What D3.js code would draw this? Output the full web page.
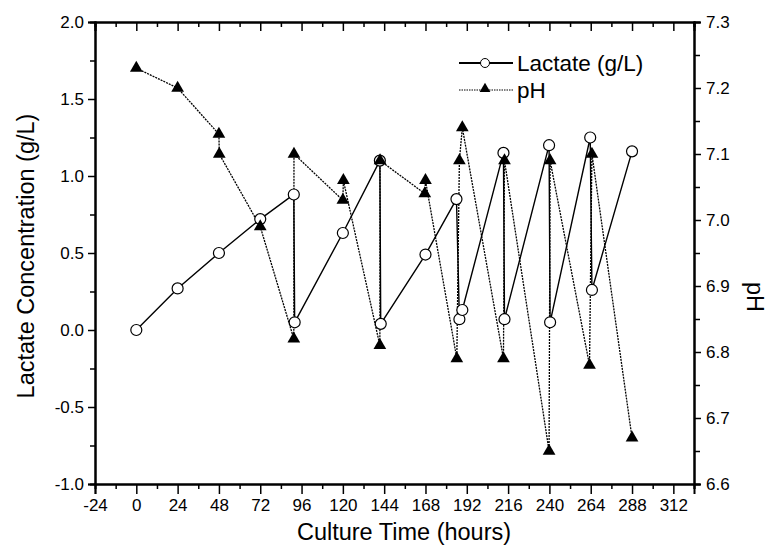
<!DOCTYPE html>
<html>
<head>
<meta charset="utf-8">
<script src="https://cdn.jsdelivr.net/npm/d3@7"></script>
<style>
    body { margin: 0; background: #fff; }
    svg text { font-family: "Liberation Sans", Arial, sans-serif; fill: #000; }
</style>
</head>
<body>
<div id="chart"></div>
<script>
/* ---------------------------------------------------------------
   1. DATA
---------------------------------------------------------------- */

const lactateTime = [0, 24, 48, 72, 91.5, 92, 120, 141.5, 142, 168, 186, 187.7, 189.4,
                     213.3, 213.9, 239.8, 240.4, 263.7, 264.7, 288];
const lactateVal  = [0.00, 0.27, 0.50, 0.72, 0.88, 0.05, 0.63, 1.10, 0.04, 0.49, 0.85, 0.07, 0.13,
                     1.15, 0.07, 1.20, 0.05, 1.25, 0.26, 1.16];

const phTime = [0, 24, 48, 48.2, 72, 91.5, 91.6, 120, 120.3, 141.5, 141.6, 167.6, 168,
                186.2, 187.7, 189.4, 213.3, 213.9, 239.8, 240.4, 263.3, 264.7, 288];
const phVal  = [7.23, 7.20, 7.13, 7.10, 6.99, 6.82, 7.10, 7.03, 7.06, 6.81, 7.09, 7.04, 7.06,
                6.79, 7.09, 7.14, 6.79, 7.09, 6.65, 7.09, 6.78, 7.10, 6.67];

const xTicks      = [-24, 0, 24, 48, 72, 96, 120, 144, 168, 192, 216, 240, 264, 288, 312];
const xMinorTicks = [-12, 12, 36, 60, 84, 108, 132, 156, 180, 204, 228, 252, 276, 300, 324];
const yTicks      = [-1.0, -0.5, 0.0, 0.5, 1.0, 1.5, 2.0];
const yMinorTicks = [-0.75, -0.25, 0.25, 0.75, 1.25, 1.75];
const phTicks      = [6.6, 6.7, 6.8, 6.9, 7.0, 7.1, 7.2, 7.3];
const phMinorTicks = [6.65, 6.75, 6.85, 6.95, 7.05, 7.15, 7.25];

const lactate = lactateTime.map((t, i) => ({ t, v: lactateVal[i] }));
const ph = phTime.map((t, i) => ({ t, v: phVal[i] }));

/* ---------------------------------------------------------------
   2. SVG + SCALES
---------------------------------------------------------------- */

const width = 770, height = 556;
const margin = { top: 22, right: 76, bottom: 72, left: 95 };
const innerW = width - margin.left - margin.right;
const innerH = height - margin.top - margin.bottom;

const svg = d3.select("#chart").append("svg")
    .attr("width", width)
    .attr("height", height);

const g = svg.append("g").attr("transform", `translate(${margin.left},${margin.top})`);

const x = d3.scaleLinear().domain([-24, 324]).range([0, innerW]);
const y = d3.scaleLinear().domain([-1, 2]).range([innerH, 0]);
const yPh = d3.scaleLinear().domain([6.6, 7.3]).range([innerH, 0]);

// plain hyphen for negatives, like the original
const fmtInt = d => String(d);
const fmt1 = d => d.toFixed(1).replace("\u2212", "-");

/* ---------------------------------------------------------------
   3. AXES (major + minor ticks)
---------------------------------------------------------------- */

function styleAxis(sel, fontSize) {
    sel.selectAll(".domain").attr("stroke", "#000").attr("stroke-width", 2);
    sel.selectAll(".tick line").attr("stroke", "#000").attr("stroke-width", 1.5);
    sel.selectAll(".tick text").style("font-size", fontSize + "px");
}

// bottom
g.append("g").attr("transform", `translate(0,${innerH})`)
    .call(d3.axisBottom(x).tickValues(xMinorTicks).tickSize(5).tickFormat(""))
    .call(s => styleAxis(s, 16));
g.append("g").attr("transform", `translate(0,${innerH})`)
    .call(d3.axisBottom(x).tickValues(xTicks).tickSize(10).tickPadding(5).tickFormat(fmtInt))
    .call(s => styleAxis(s, 17));

// top (inward ticks, no labels)
g.append("g")
    .call(d3.axisTop(x).tickValues(xMinorTicks).tickSize(-5).tickFormat(""))
    .call(s => styleAxis(s, 16));
g.append("g")
    .call(d3.axisTop(x).tickValues(xTicks).tickSize(-9).tickFormat(""))
    .call(s => styleAxis(s, 16));

// left
g.append("g")
    .call(d3.axisLeft(y).tickValues(yMinorTicks).tickSize(5).tickFormat(""))
    .call(s => styleAxis(s, 16));
g.append("g")
    .call(d3.axisLeft(y).tickValues(yTicks).tickSize(7).tickPadding(4).tickFormat(fmt1))
    .call(s => styleAxis(s, 17));

// right (pH)
g.append("g").attr("transform", `translate(${innerW},0)`)
    .call(d3.axisRight(yPh).tickValues(phMinorTicks).tickSize(6).tickFormat(""))
    .call(s => styleAxis(s, 16));
g.append("g").attr("transform", `translate(${innerW},0)`)
    .call(d3.axisRight(yPh).tickValues(phTicks).tickSize(7).tickPadding(5).tickFormat(fmt1))
    .call(s => styleAxis(s, 17));

// axis titles
svg.append("text")
    .attr("x", 404)
    .attr("y", 540)
    .attr("text-anchor", "middle")
    .style("font-size", "23.5px")
    .text("Culture Time (hours)");

svg.append("text")
    .attr("transform", "translate(34,256) rotate(-90)")
    .attr("text-anchor", "middle")
    .style("font-size", "23.5px")
    .text("Lactate Concentration (g/L)");

svg.append("text")
    .attr("transform", "translate(747,297) rotate(90)")
    .attr("text-anchor", "middle")
    .style("font-size", "23.5px")
    .text("pH");

/* ---------------------------------------------------------------
   4. SERIES
---------------------------------------------------------------- */

const triangle = d3.symbol().type(d3.symbolTriangle);

const lactateLine = d3.line().x(d => x(d.t)).y(d => y(d.v));
const phLine = d3.line().x(d => x(d.t)).y(d => yPh(d.v));

g.append("path")
    .datum(lactate)
    .attr("d", lactateLine)
    .attr("fill", "none")
    .attr("stroke", "#000")
    .attr("stroke-width", 1.4);

g.append("path")
    .datum(ph)
    .attr("d", phLine)
    .attr("fill", "none")
    .attr("stroke", "#000")
    .attr("stroke-width", 1.3)
    .attr("stroke-dasharray", "2,1");

g.append("g")
    .selectAll("circle")
    .data(lactate)
    .enter()
    .append("circle")
    .attr("cx", d => x(d.t))
    .attr("cy", d => y(d.v))
    .attr("r", 5.5)
    .attr("fill", "#fff")
    .attr("stroke", "#000")
    .attr("stroke-width", 1.2);

g.append("g")
    .selectAll("path")
    .data(ph)
    .enter()
    .append("path")
    .attr("d", triangle.size(70))
    .attr("transform", d => `translate(${x(d.t)},${yPh(d.v)})`)
    .attr("fill", "#000");

/* ---------------------------------------------------------------
   5. LEGEND
---------------------------------------------------------------- */

const legend = svg.append("g").attr("transform", "translate(459,63)");

legend.append("line")
    .attr("x1", 0).attr("x2", 54).attr("y1", 0).attr("y2", 0)
    .attr("stroke", "#000").attr("stroke-width", 1.8);
legend.append("circle")
    .attr("cx", 26).attr("cy", 0).attr("r", 4.5)
    .attr("fill", "#fff").attr("stroke", "#000").attr("stroke-width", 1);
legend.append("text")
    .attr("x", 58).attr("y", 8)
    .style("font-size", "22.5px")
    .text("Lactate (g/L)");

legend.append("line")
    .attr("x1", 0).attr("x2", 54).attr("y1", 27).attr("y2", 27)
    .attr("stroke", "#000").attr("stroke-width", 1.2)
    .attr("stroke-dasharray", "1.5,1");
legend.append("path")
    .attr("d", triangle.size(50))
    .attr("transform", "translate(26,26)")
    .attr("fill", "#000");
legend.append("text")
    .attr("x", 58).attr("y", 35)
    .style("font-size", "22.5px")
    .text("pH");
</script>
</body>
</html>
